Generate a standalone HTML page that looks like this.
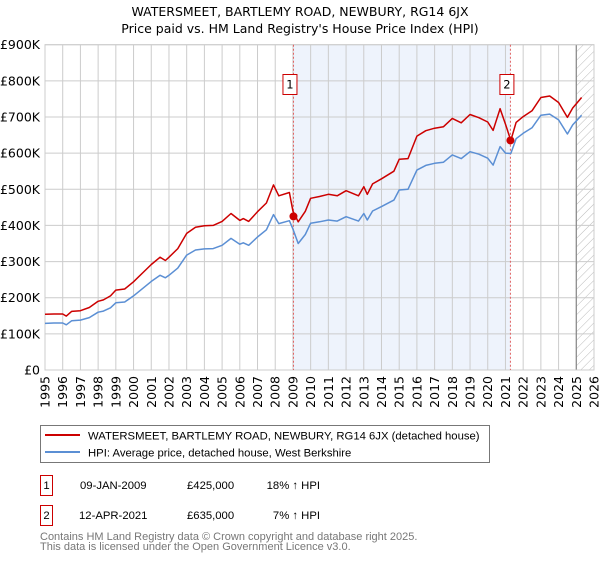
<!DOCTYPE html>
<html><head><meta charset="utf-8"><style>
body{margin:0;background:#fff;font-family:"Liberation Sans","DejaVu Sans",sans-serif;}
svg text{font-family:"DejaVu Sans","Liberation Sans",sans-serif;}
svg text.lib{font-family:"Liberation Sans","DejaVu Sans",sans-serif;}
</style></head><body>
<svg id="c" width="600" height="560" xmlns="http://www.w3.org/2000/svg">
<defs><pattern id="hatch" width="6" height="6" patternUnits="userSpaceOnUse" patternTransform="rotate(45)"><line x1="0" y1="0" x2="0" y2="6" stroke="#bbb" stroke-width="1"/></pattern></defs>
<text x="300" y="16" text-anchor="middle" font-size="12.5" fill="#000">WATERSMEET, BARTLEMY ROAD, NEWBURY, RG14 6JX</text>
<text x="300" y="33" text-anchor="middle" font-size="12.5" fill="#000">Price paid vs. HM Land Registry's House Price Index (HPI)</text>
<g id="grid"></g><g id="marks"></g><g id="axes"></g>
<g>
<rect x="40.5" y="425.5" width="449" height="37" fill="#fff" stroke="#777"/>
<line x1="45" y1="435" x2="80" y2="435" stroke="#cc0000" stroke-width="2"/>
<text class="lib" x="88" y="439.5" font-size="11.3">WATERSMEET, BARTLEMY ROAD, NEWBURY, RG14 6JX (detached house)</text>
<line x1="45" y1="452" x2="80" y2="452" stroke="#5b8fd4" stroke-width="2"/>
<text class="lib" x="88" y="456.5" font-size="11.3">HPI: Average price, detached house, West Berkshire</text>
</g>
<g font-size="11.3">
<rect x="40.5" y="475.5" width="12" height="20" fill="#fff" stroke="#cc0000"/><text class="lib" x="46.5" y="489" text-anchor="middle">1</text>
<text class="lib" x="80" y="489">09-JAN-2009</text><text class="lib" x="187" y="489">£425,000</text><text class="lib" x="320" y="489" text-anchor="end">18% ↑ HPI</text>
<rect x="40.5" y="505.5" width="12" height="20" fill="#fff" stroke="#cc0000"/><text class="lib" x="46.5" y="519" text-anchor="middle">2</text>
<text class="lib" x="79" y="519">12-APR-2021</text><text class="lib" x="187" y="519">£635,000</text><text class="lib" x="320" y="519" text-anchor="end">7% ↑ HPI</text>
</g>
<text class="lib" x="40" y="540" font-size="11" fill="#777">Contains HM Land Registry data © Crown copyright and database right 2025.</text>
<text class="lib" x="40" y="550" font-size="11" fill="#777">This data is licensed under the Open Government Licence v3.0.</text>
</svg>
<script>
const years=[1995,1995.5,1996,1996.2,1996.5,1997,1997.5,1998,1998.3,1998.7,1999,1999.5,2000,2000.5,2001,2001.5,2001.8,2002,2002.5,2003,2003.5,2004,2004.5,2005,2005.5,2006,2006.2,2006.5,2007,2007.5,2007.9,2008.2,2008.8,2009.0,2009.3,2009.7,2010,2010.5,2011,2011.5,2012,2012.7,2013,2013.2,2013.5,2014,2014.7,2015,2015.5,2016,2016.5,2017,2017.5,2018,2018.5,2019,2019.5,2020,2020.3,2020.7,2021,2021.3,2021.6,2022,2022.5,2023,2023.5,2024,2024.5,2024.8,2025.3];
const hpi=[129,130,130,125,136,138,145,160,163,172,186,188,205,225,245,262,255,262,282,318,332,335,336,345,364,348,352,345,368,388,430,405,413,390,350,375,406,410,415,412,424,412,433,415,440,452,470,498,500,553,566,572,575,595,585,604,597,586,567,618,600,599,640,655,670,705,708,692,653,678,705];
const price=[154,155,155,149,162,164,173,190,194,205,221,224,244,268,292,312,303,312,336,378,395,399,400,411,433,414,419,411,438,462,512,482,491,440,410,439,475,480,486,482,496,482,507,486,515,529,550,583,585,647,662,669,673,696,684,707,698,686,663,723,680,635,685,701,717,754,758,740,699,725,754];
const saleYears=[2009.03,2021.28];
const salePrices=[425,635];
const saleLabels=["1","2"];
const yTicks=[0,100,200,300,400,500,600,700,800,900];
const yTickLabels=["£0","£100K","£200K","£300K","£400K","£500K","£600K","£700K","£800K","£900K"];
const xTicks=[1995,1996,1997,1998,1999,2000,2001,2002,2003,2004,2005,2006,2007,2008,2009,2010,2011,2012,2013,2014,2015,2016,2017,2018,2019,2020,2021,2022,2023,2024,2025,2026];
const NS="http://www.w3.org/2000/svg";
const L=45,R=594,T=44.7,B=370;
const xs=y=>L+(y-1995)/(2026-1995)*(R-L);
const ys=v=>B-v/900*(B-T);
function mk(tag,attrs,parent){const e=document.createElementNS(NS,tag);for(const k in attrs)e.setAttribute(k,attrs[k]);parent.appendChild(e);return e;}
const grid=document.getElementById('grid'),marks=document.getElementById('marks'),axes=document.getElementById('axes');
let r=mk('rect',{x:xs(saleYears[0]),y:T,width:xs(saleYears[1])-xs(saleYears[0]),height:B-T,fill:'#eef3fc'},grid);


let h=mk('rect',{x:xs(2025),y:T,width:R-xs(2025),height:B-T,fill:'url(#hatch)'},grid);


yTicks.forEach((v,i)=>{mk('line',{x1:L,x2:R,y1:ys(v),y2:ys(v),stroke:'#ccc'},grid);
 const t=mk('text',{x:L-5,y:ys(v)+4.5,'text-anchor':'end','font-size':12.5},axes);t.textContent=yTickLabels[i];
 
 });
xTicks.forEach(y=>{mk('line',{x1:xs(y),x2:xs(y),y1:T,y2:B,stroke:'#ccc'},grid);
 const t=mk('text',{x:0,y:0,'text-anchor':'end','font-size':12.5,transform:`translate(${xs(y)+4.5},${B+6}) rotate(-90)`},axes);t.textContent=y;
 
 });
mk('line',{x1:xs(2025),x2:xs(2025),y1:T,y2:B,stroke:'#888','stroke-width':1.2},grid);
mk('rect',{x:L,y:T,width:R-L,height:B-T,fill:'none',stroke:'#ccc'},grid);
saleYears.forEach((y,i)=>{const l=mk('line',{x1:xs(y),x2:xs(y),y1:T,y2:B,stroke:'#e06060','stroke-dasharray':'2,2'},grid);
 
 });
function path(vals,col,name){const p=mk('path',{d:years.map((y,i)=>(i?'L':'M')+xs(y).toFixed(1)+','+ys(vals[i]).toFixed(1)).join(''),fill:'none',stroke:col,'stroke-width':1.5,'stroke-linejoin':'round'},marks);
 
 }
path(hpi,'#5b8fd4','hpi-line');
path(price,'#cc0000','price-line');
saleYears.forEach((y,i)=>{const c=mk('circle',{cx:xs(y),cy:ys(salePrices[i]),r:4,fill:'#cc0000'},marks);
 
 
 const g=mk('g',{},marks);
 
 
 mk('rect',{x:xs(y)-10.5,y:74.5,width:14,height:20,fill:'#fff',stroke:'#cc0000'},g);
 const t=mk('text',{x:xs(y)-3.5,y:88.5,'text-anchor':'middle','font-size':11.5},g);t.textContent=saleLabels[i];});
</script>
</body></html>
